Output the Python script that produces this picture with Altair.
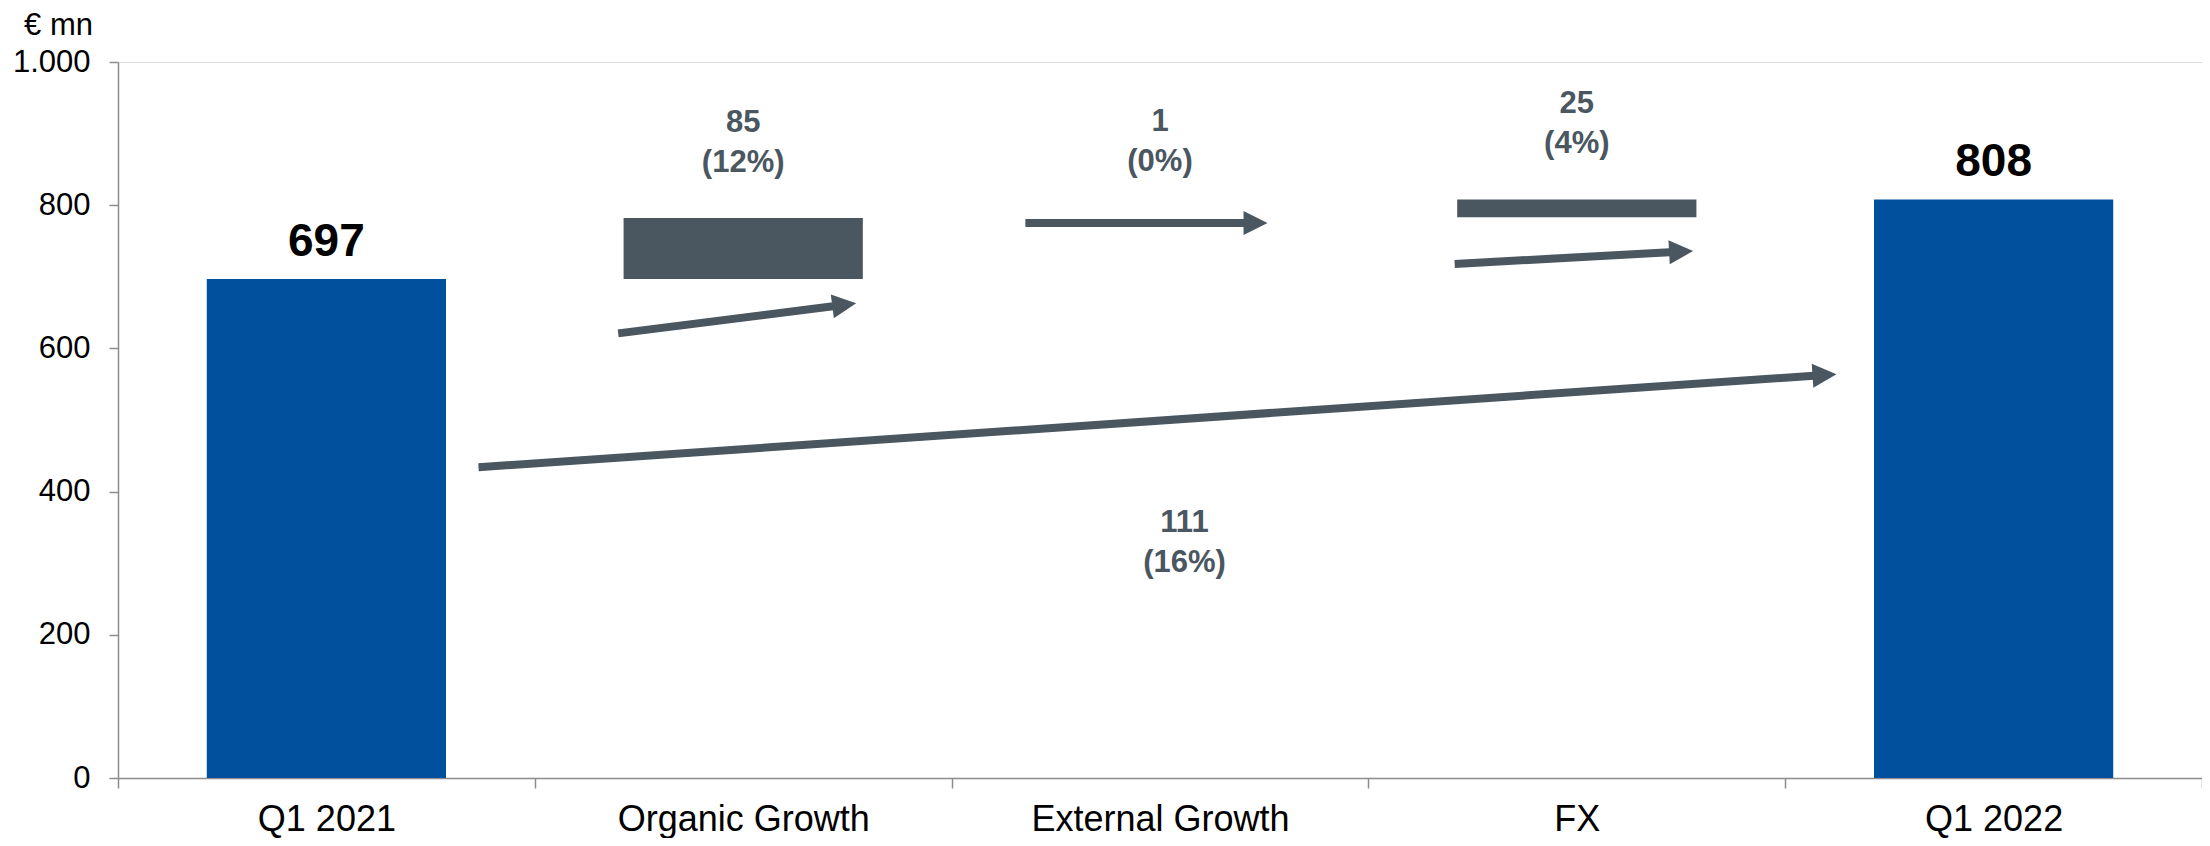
import math
import altair as alt
import pandas as pd

# ---------------- data ----------------
categories = ["Q1 2021", "Organic Growth", "External Growth", "FX", "Q1 2022"]
bar_start = [0, 697, 782, 783, 0]
bar_end = [697, 782, 783, 808, 808]
bar_kind = ["total", "delta", "delta", "delta", "total"]
value_labels = ["697", "85\n(12%)", "1\n(0%)", "25\n(4%)", "808"]

# arrows (x in category-index units, y in € mn)
arrow_x0 = [1.200, 2.177, 3.207, 0.865]
arrow_x1 = [1.771, 2.758, 3.779, 4.123]
arrow_y0 = [621, 775, 718, 434]
arrow_y1 = [663, 775, 736, 564]

total_change_label = "111\n(16%)"

y_ticks = [0, 200, 400, 600, 800, 1000]

# ---------------- style ----------------
W, H = 2084, 716
STEP = W / len(categories)
KY = H / 1000
HEAD = 24
BLUE = "#00509e"
GREY = "#4a5660"
AXIS_GREY = "#8c8c8c"
FONT = "Liberation Sans"

bars_df = pd.DataFrame({
    "category": categories,
    "start": bar_start,
    "end": bar_end,
    "kind": bar_kind,
    "label": value_labels,
})

rows = []
for x0, x1, y0, y1 in zip(arrow_x0, arrow_x1, arrow_y0, arrow_y1):
    px = (x1 - x0) * STEP
    py = -(y1 - y0) * KY
    L = math.hypot(px, py)
    ux, uy = px / L, py / L
    rows.append({
        "x0": x0, "y0": y0,
        "sx1": x1 - 0.8 * HEAD * ux / STEP,
        "sy1": y1 + 0.8 * HEAD * uy / KY,
        "hx": x1 - 0.5 * HEAD * ux / STEP,
        "hy": y1 + 0.5 * HEAD * uy / KY,
        "angle": math.degrees(math.atan2(py, px)) % 360,
    })
arrows_df = pd.DataFrame(rows)

tot_df = pd.DataFrame({
    "x": [(arrow_x0[3] + arrow_x1[3]) / 2],
    "y": [(arrow_y0[3] + arrow_y1[3]) / 2],
    "label": [total_change_label],
})

y_scale = alt.Scale(domain=[0, 1000], nice=False, zero=True)
y_axis = alt.Axis(
    values=y_ticks,
    labelExpr="replace(format(datum.value, ','), ',', '.')",
    labelFontSize=31, labelColor="black", labelFont=FONT,
    tickSize=9, tickColor=AXIS_GREY, tickWidth=1.5,
    domainColor=AXIS_GREY, domainWidth=1.5,
    labelPadding=19, grid=False,
    title="€ mn", titleAngle=0, titleX=-60, titleY=-28,
    titleAlign="center", titleBaseline="alphabetic",
    titleFontSize=31, titleFontWeight="normal", titleColor="black", titleFont=FONT,
)

x_band = alt.X(
    "category:N", sort=categories,
    scale=alt.Scale(paddingInner=0, paddingOuter=0),
    axis=alt.Axis(
        title=None, labelAngle=0, tickBand="extent", labelLimit=0,
        labelFontSize=36, labelColor="black", labelFont=FONT,
        labelPadding=14, tickSize=10, tickColor=AXIS_GREY, tickWidth=1.5,
        domainColor=AXIS_GREY, domainWidth=1.5, grid=False,
    ),
)

# bars thinner than one pixel are not visible in the reference
bars = alt.Chart(bars_df).transform_filter(
    "datum.end - datum.start >= 2"
).mark_bar(width=alt.RelativeBandSize(0.574)).encode(
    x=x_band,
    y=alt.Y("start:Q", scale=y_scale, axis=y_axis),
    y2="end:Q",
    color=alt.Color("kind:N", scale=alt.Scale(domain=["total", "delta"], range=[BLUE, GREY]), legend=None),
)

total_text = alt.Chart(bars_df).transform_filter(alt.datum.kind == "total").mark_text(
    baseline="bottom", dy=-13, fontSize=46, fontWeight="bold", color="black", font=FONT,
).encode(x=x_band, y=alt.Y("end:Q", scale=y_scale, axis=y_axis), text="label:N")

delta_text = alt.Chart(bars_df).transform_filter(alt.datum.kind == "delta").mark_text(
    baseline="bottom", dy=-79, fontSize=31, fontWeight="bold", color=GREY, font=FONT,
    lineBreak="\n", lineHeight=40,
).encode(x=x_band, y=alt.Y("end:Q", scale=y_scale, axis=y_axis), text="label:N")

x_q_scale = alt.Scale(domain=[0, len(categories)], nice=False, zero=False)

shafts = alt.Chart(arrows_df).mark_rule(color=GREY, strokeWidth=8, strokeCap="butt").encode(
    x=alt.X("x0:Q", scale=x_q_scale, axis=None),
    x2="sx1:Q",
    y=alt.Y("y0:Q", scale=y_scale, axis=y_axis),
    y2="sy1:Q",
)

heads = alt.Chart(arrows_df).mark_point(
    shape="M-1,-1L1,0L-1,1Z", filled=True, opacity=1, color=GREY,
    size=HEAD * HEAD, strokeWidth=0,
).encode(
    x=alt.X("hx:Q", scale=x_q_scale, axis=None),
    y=alt.Y("hy:Q", scale=y_scale, axis=y_axis),
    angle=alt.Angle("angle:Q", scale=None),
)

tot_text = alt.Chart(tot_df).mark_text(
    baseline="top", dx=27, dy=87, fontSize=31, fontWeight="bold", color=GREY, font=FONT,
    lineBreak="\n", lineHeight=40,
).encode(
    x=alt.X("x:Q", scale=x_q_scale, axis=None),
    y=alt.Y("y:Q", scale=y_scale, axis=y_axis),
    text="label:N",
)

band_layer = alt.layer(bars, total_text, delta_text)
arrow_layer = alt.layer(shafts, heads, tot_text)

chart = alt.layer(band_layer, arrow_layer).resolve_scale(x="independent").properties(
    width=W, height=H,
    padding={"left": 110, "top": 54, "right": 0, "bottom": 60},
    autosize=alt.AutoSizeParams(type="none"),
).configure_view(stroke=None).configure(font=FONT)

chart.save("out.html", embed_options={"renderer": "svg", "actions": False})
